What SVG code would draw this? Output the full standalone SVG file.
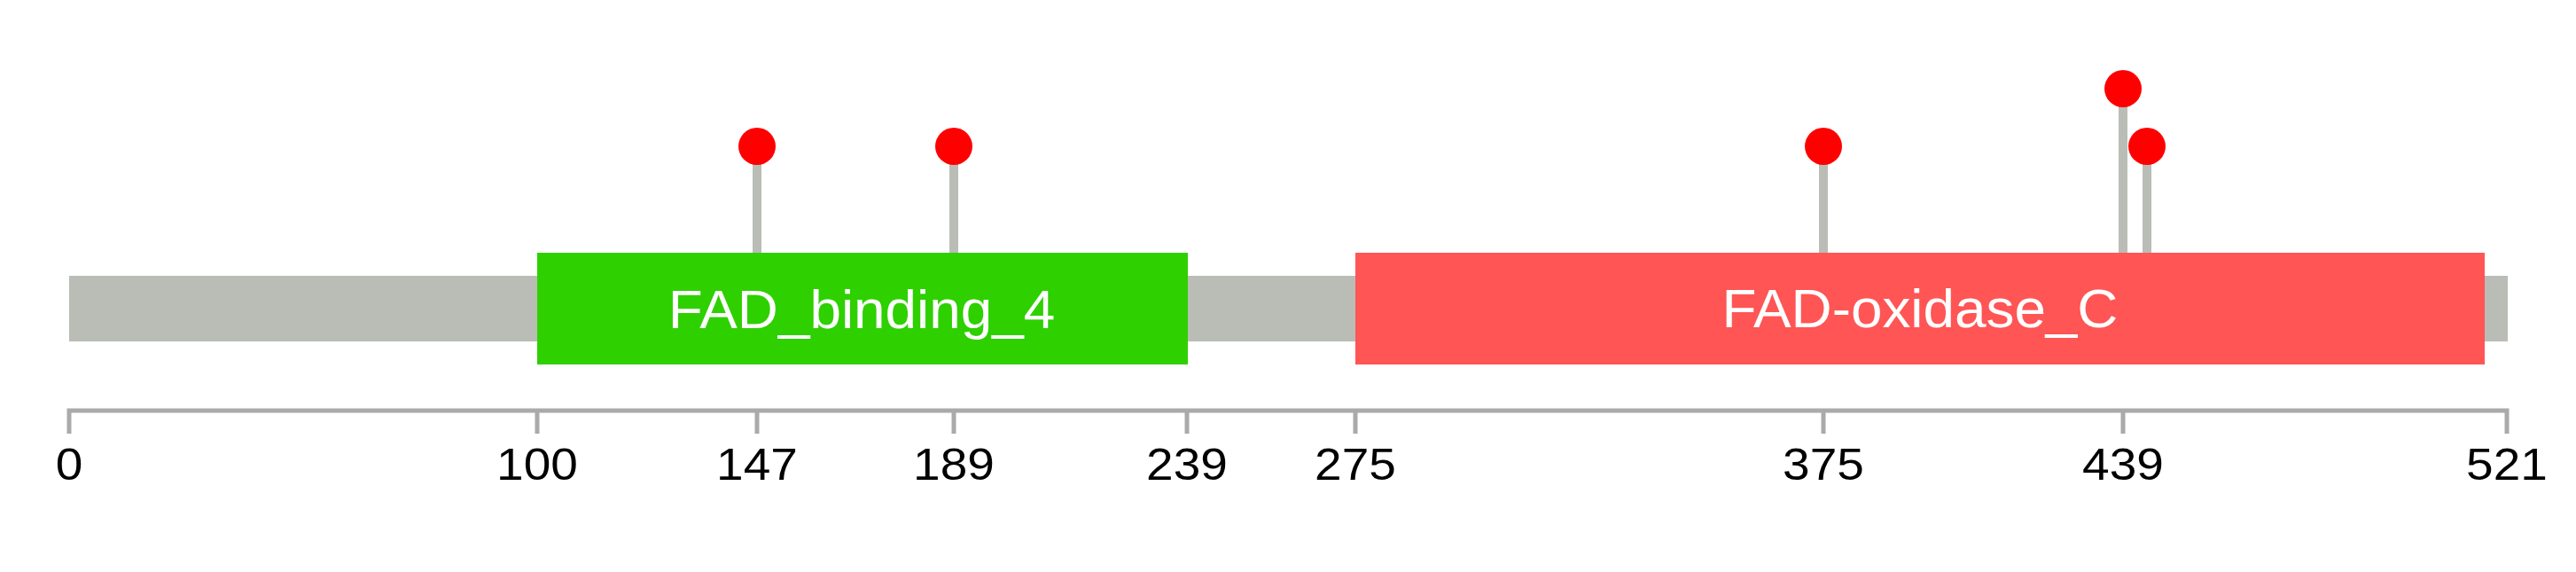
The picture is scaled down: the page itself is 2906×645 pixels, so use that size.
<svg xmlns="http://www.w3.org/2000/svg" width="2906" height="645" viewBox="0 0 2906 645">
  <style>
    .stem { stroke: #babdb6; stroke-width: 10; }
    .dot { fill: #ff0000; }
    .axis { stroke: #aaaaaa; stroke-width: 5; fill: none; }
    .num { font-family: "Liberation Sans", Arial, sans-serif; font-size: 50px; fill: #000000; text-anchor: middle; }
    .dlabel { font-family: "Liberation Sans", Arial, sans-serif; font-size: 60.5px; fill: #ffffff; text-anchor: middle; }
  </style>
  <rect width="2906" height="645" fill="#ffffff"/>
  <g id="backbone">
    <rect x="78" y="311" width="2751" height="74" fill="#babdb6"/>
  </g>
  <g id="connectors">
    <line class="stem" x1="854" y1="165" x2="854" y2="285"/>
    <line class="stem" x1="1076" y1="165" x2="1076" y2="285"/>
    <line class="stem" x1="2057" y1="165" x2="2057" y2="285"/>
    <line class="stem" x1="2395" y1="100" x2="2395" y2="285"/>
    <line class="stem" x1="2422" y1="165" x2="2422" y2="285"/>
  </g>
  <g id="domain-FAD_binding_4">
    <rect x="606" y="285" width="734" height="126" fill="#2ed000"/>
    <text class="dlabel" transform="translate(972,370) scale(1.055,1)">FAD_binding_4</text>
  </g>
  <g id="domain-FAD-oxidase_C">
    <rect x="1529" y="285" width="1274" height="126" fill="#ff5555"/>
    <text class="dlabel" transform="translate(2166,369) scale(1.055,1)">FAD-oxidase_C</text>
  </g>
  <g id="site-147"><circle class="dot" cx="854" cy="165" r="21"/></g>
  <g id="site-189"><circle class="dot" cx="1076" cy="165" r="21"/></g>
  <g id="site-375"><circle class="dot" cx="2057" cy="165" r="21"/></g>
  <g id="site-439"><circle class="dot" cx="2395" cy="100" r="21"/></g>
  <g id="site-444"><circle class="dot" cx="2422" cy="165" r="21"/></g>
  <g id="axis">
    <path class="axis" d="M78,489 V463 H2828 V489 M606,463 V489 M854,463 V489 M1076,463 V489 M1339,463 V489 M1529,463 V489 M2057,463 V489 M2395,463 V489"/>
    <text class="num" transform="translate(78,541) scale(1.1,1)">0</text>
    <text class="num" transform="translate(606,541) scale(1.1,1)">100</text>
    <text class="num" transform="translate(854,541) scale(1.1,1)">147</text>
    <text class="num" transform="translate(1076,541) scale(1.1,1)">189</text>
    <text class="num" transform="translate(1339,541) scale(1.1,1)">239</text>
    <text class="num" transform="translate(1529,541) scale(1.1,1)">275</text>
    <text class="num" transform="translate(2057,541) scale(1.1,1)">375</text>
    <text class="num" transform="translate(2395,541) scale(1.1,1)">439</text>
    <text class="num" transform="translate(2828,541) scale(1.1,1)">521</text>
  </g>
</svg>
